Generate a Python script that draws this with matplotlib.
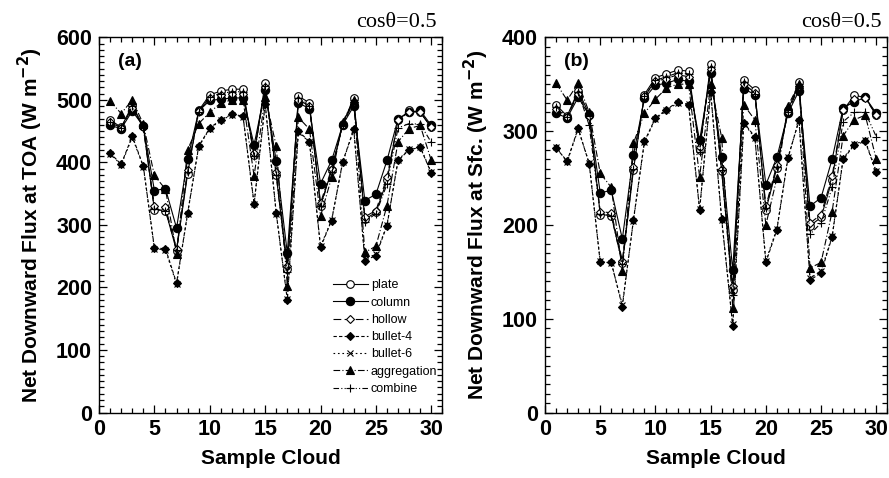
import matplotlib
matplotlib.use('Agg')
import matplotlib.pyplot as plt
from matplotlib.ticker import MultipleLocator
import numpy as np

samples = np.arange(1, 31)

# (a) net downward flux at TOA
toa_plate = [468, 456, 491, 458, 324, 323, 259, 382, 483, 508, 514, 517, 517, 412, 527,
             379, 230, 506, 495, 331, 387, 461, 503, 309, 320, 371, 467, 483, 480, 456]
toa_column = [459, 454, 482, 458, 355, 358, 295, 405, 482, 499, 501, 503, 503, 428, 515,
              402, 255, 495, 486, 366, 403, 460, 490, 339, 349, 403, 470, 480, 483, 459]
toa_hollow = [464, 455, 487, 456, 330, 328, 262, 388, 482, 503, 508, 510, 510, 415, 520,
              385, 235, 500, 490, 335, 390, 460, 497, 313, 323, 376, 467, 481, 480, 456]
toa_bullet4 = [415, 397, 442, 394, 263, 262, 207, 319, 426, 455, 468, 477, 474, 334, 494,
               319, 180, 450, 433, 264, 307, 401, 453, 243, 251, 299, 403, 420, 424, 383]
toa_bullet6 = [414, 396, 440, 393, 262, 260, 205, 318, 425, 454, 467, 476, 473, 333, 492,
               318, 182, 449, 432, 266, 308, 400, 452, 246, 253, 300, 404, 421, 425, 384]
toa_aggregation = [498, 478, 500, 461, 379, 357, 254, 420, 462, 480, 495, 500, 500, 378, 505,
                   426, 203, 472, 453, 314, 376, 465, 499, 256, 266, 331, 433, 454, 459, 403]
toa_combine = [465, 455, 490, 455, 325, 323, 260, 385, 480, 505, 510, 513, 513, 410, 522,
               380, 225, 503, 490, 330, 385, 460, 500, 305, 318, 365, 455, 462, 461, 432]

# (b) net downward flux at surface
sfc_plate = [328, 316, 343, 318, 211, 210, 159, 258, 339, 357, 361, 365, 364, 280, 371,
             257, 131, 354, 344, 216, 261, 322, 352, 199, 208, 248, 322, 338, 336, 317]
sfc_column = [319, 314, 336, 317, 234, 237, 185, 274, 335, 349, 351, 355, 353, 290, 362,
              272, 152, 345, 339, 243, 272, 319, 343, 220, 229, 270, 325, 331, 336, 319]
sfc_hollow = [324, 315, 340, 316, 214, 213, 162, 262, 337, 353, 356, 360, 358, 283, 366,
              260, 135, 350, 341, 220, 264, 320, 348, 202, 211, 252, 323, 334, 335, 317]
sfc_bullet4 = [282, 268, 303, 265, 160, 160, 113, 205, 289, 314, 323, 331, 328, 216, 342,
               206, 92, 309, 294, 160, 195, 271, 312, 141, 149, 187, 270, 285, 289, 256]
sfc_bullet6 = [283, 267, 302, 266, 161, 159, 115, 204, 288, 313, 322, 330, 329, 217, 341,
               205, 94, 308, 293, 162, 196, 272, 311, 143, 151, 188, 271, 286, 290, 257]
sfc_aggregation = [351, 333, 351, 320, 255, 240, 151, 287, 319, 334, 346, 350, 350, 251, 350,
                   293, 111, 328, 312, 200, 250, 327, 350, 154, 160, 214, 295, 312, 317, 270]
sfc_combine = [326, 315, 342, 306, 212, 210, 158, 260, 337, 354, 358, 362, 361, 278, 368,
               258, 125, 352, 340, 218, 262, 320, 350, 190, 202, 240, 310, 320, 320, 294]

labels = ['plate', 'column', 'hollow', 'bullet-4', 'bullet-6', 'aggregation', 'combine']

# line style, marker, face colour for each habit
styles = [
    ('-', 'o', 'white'),
    ('-', 'o', 'black'),
    ((0, (7, 3)), 'D', 'white'),
    ((0, (3, 2)), 'D', 'black'),
    ((0, (1.5, 2.5)), 'x', 'black'),
    ((0, (6, 2, 1, 2)), '^', 'black'),
    ((0, (5, 2, 1, 2, 1, 2)), '+', 'black'),
]
msizes = [5.5, 6, 4, 4, 5, 5.5, 6]

plt.rcParams['font.family'] = ['Liberation Sans', 'DejaVu Sans']

fig = plt.figure(figsize=(8.89, 4.78), dpi=100)
ax_a = fig.add_axes([0.1114, 0.137, 0.3862, 0.785])
ax_b = fig.add_axes([0.6131, 0.137, 0.3850, 0.785])

panels = [
    (ax_a, [toa_plate, toa_column, toa_hollow, toa_bullet4, toa_bullet6, toa_aggregation, toa_combine],
     600, 'Net Downward Flux at TOA (W m$^{\\mathbf{-2}}$)', '(a)'),
    (ax_b, [sfc_plate, sfc_column, sfc_hollow, sfc_bullet4, sfc_bullet6, sfc_aggregation, sfc_combine],
     400, 'Net Downward Flux at Sfc. (W m$^{\\mathbf{-2}}$)', '(b)'),
]

for ax, series, ymax, ylab, tag in panels:
    for vals, lab, (ls, mk, fc), ms in zip(series, labels, styles, msizes):
        ax.plot(samples, vals, linestyle=ls, marker=mk, color='black', mfc=fc, mec='black',
                ms=ms, lw=0.8, mew=0.8, label=lab)
    ax.set_xlim(0, 31)
    ax.set_ylim(0, ymax)
    ax.xaxis.set_major_locator(MultipleLocator(5))
    ax.xaxis.set_minor_locator(MultipleLocator(1))
    ax.yaxis.set_major_locator(MultipleLocator(100))
    ax.yaxis.set_minor_locator(MultipleLocator(10))
    ax.tick_params(which='both', direction='in', top=True, right=True, width=0.9)
    ax.tick_params(which='major', length=6, labelsize=15.5, pad=5)
    ax.tick_params(which='minor', length=3.5)
    for lbl in ax.get_xticklabels() + ax.get_yticklabels():
        lbl.set_fontweight('bold')
    for sp in ax.spines.values():
        sp.set_linewidth(1.0)
    ax.set_xlabel('Sample Cloud', fontsize=15, fontweight='bold', labelpad=6)
    ax.set_ylabel(ylab, fontsize=15, fontweight='bold', labelpad=8)
    ax.text(0.055, 0.935, tag, transform=ax.transAxes, fontsize=14, fontweight='bold',
            va='center', ha='left')
    ax.text(0.985, 1.04, 'cos\u03b8=0.5', transform=ax.transAxes, fontsize=16,
            family=['Liberation Serif', 'DejaVu Serif'], ha='right', va='center')

ax_a.legend(loc='upper left', bbox_to_anchor=(0.655, 0.378), frameon=False, fontsize=9,
            numpoints=1, handlelength=2.8, handletextpad=0.25, labelspacing=0.42,
            borderpad=0.2)

fig.savefig('out.png', dpi=100)
